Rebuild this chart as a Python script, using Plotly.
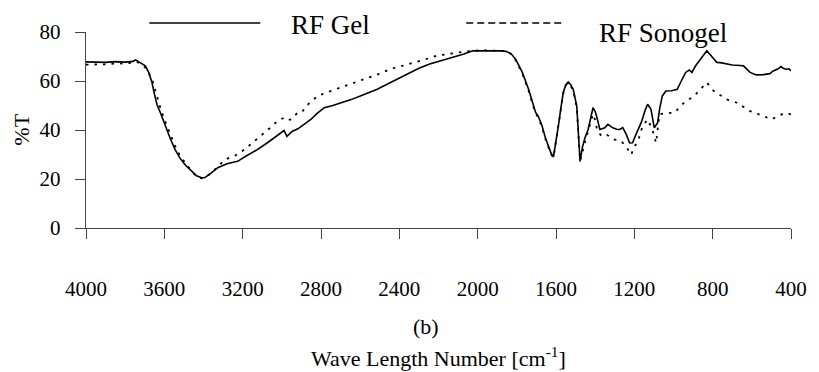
import plotly.graph_objects as go

# ---- data ----
gel_wn = [4000, 3900, 3850, 3800, 3760, 3747, 3730, 3697, 3680, 3663, 3650, 3638, 3615, 3596,
          3570, 3545, 3520, 3494, 3460, 3435, 3410, 3393, 3360, 3327, 3280, 3226, 3180, 3125,
          3070, 3024, 3000, 2989, 2974, 2960, 2948, 2918, 2888, 2852, 2820, 2783, 2740, 2700,
          2650, 2599, 2550, 2513, 2460, 2412, 2347, 2300, 2245, 2180, 2126, 2070, 2025, 1950,
          1880, 1856, 1830, 1806, 1772, 1740, 1720, 1704, 1690, 1671, 1655, 1639, 1625, 1613,
          1600, 1588, 1575, 1563, 1550, 1537, 1525, 1512, 1494, 1485, 1477, 1465, 1452, 1436,
          1420, 1411, 1400, 1393, 1376, 1360, 1351, 1335, 1320, 1310, 1290, 1275, 1259, 1240,
          1224, 1209, 1190, 1165, 1145, 1132, 1115, 1098, 1081, 1070, 1057, 1039, 1010, 981,
          960, 938, 920, 906, 887, 862, 845, 830, 810, 794, 779, 761, 700, 643, 609, 577, 540,
          508, 491, 465, 451, 440, 425, 410, 400]
gel_t = [67.8, 67.6, 67.9, 67.7, 68.0, 68.6, 67.8, 66.2, 63.5, 59.4, 54.5, 50.5, 46.0, 41.6,
         36.5, 32.0, 28.5, 25.8, 23.0, 21.3, 20.5, 20.6, 22.5, 24.6, 26.2, 27.2, 29.5, 32.0,
         35.0, 37.7, 39.0, 39.8, 37.4, 38.5, 39.4, 40.5, 42.3, 44.3, 46.8, 49.1, 50.0, 50.9,
         52.3, 53.9, 55.5, 56.6, 58.8, 60.7, 63.5, 65.2, 66.9, 68.4, 69.6, 71.0, 72.3, 72.4,
         72.3, 72.1, 71.2, 68.9, 63.5, 56.6, 51.0, 47.2, 45.5, 41.6, 37.0, 33.4, 30.5, 29.0,
         35.0, 41.6, 49.0, 55.3, 58.5, 59.6, 58.5, 56.6, 49.8, 38.0, 27.2, 33.0, 36.8, 40.2,
         46.0, 49.1, 47.5, 45.7, 40.2, 40.5, 40.9, 42.3, 41.5, 40.9, 40.3, 40.2, 41.0, 38.0,
         34.7, 34.8, 38.5, 43.0, 48.0, 50.5, 48.4, 40.9, 43.0, 49.0, 53.9, 55.9, 56.0, 56.6,
         60.0, 63.5, 64.5, 63.5, 66.2, 68.9, 71.0, 72.3, 70.5, 68.9, 67.6, 67.5, 66.5, 66.2,
         63.5, 62.5, 62.6, 63.0, 64.1, 65.0, 65.9, 65.2, 64.8, 65.0, 64.1]

sono_wn = [4000, 3900, 3850, 3800, 3760, 3740, 3720, 3690, 3660, 3640, 3620, 3596, 3570, 3545,
           3520, 3494, 3460, 3435, 3410, 3390, 3360, 3327, 3292, 3240, 3191, 3140, 3090, 3050,
           3024, 2989, 2970, 2953, 2918, 2898, 2860, 2817, 2751, 2700, 2650, 2600, 2548, 2500,
           2448, 2400, 2347, 2280, 2210, 2140, 2075, 1974, 1900, 1856, 1830, 1806, 1772, 1740,
           1720, 1704, 1690, 1671, 1655, 1639, 1625, 1613, 1600, 1588, 1575, 1563, 1550, 1537,
           1525, 1512, 1494, 1477, 1460, 1440, 1420, 1411, 1400, 1390, 1368, 1340, 1300, 1266,
           1240, 1216, 1199, 1183, 1158, 1132, 1108, 1089, 1072, 1032, 996, 946, 894, 861, 830,
           794, 728, 678, 609, 541, 500, 466, 431, 400]
sono_t = [66.7, 66.8, 67.2, 67.1, 67.5, 67.8, 67.0, 65.0, 60.0, 54.0, 49.0, 43.5, 38.0, 33.5,
          29.5, 26.5, 23.0, 21.0, 20.3, 20.6, 22.5, 25.0, 27.9, 29.5, 32.0, 35.5, 38.8, 41.5,
          43.6, 45.0, 44.0, 44.3, 47.2, 47.3, 51.0, 53.9, 55.9, 57.3, 58.7, 60.0, 61.4, 63.0,
          64.8, 65.8, 66.9, 68.5, 70.3, 71.2, 71.9, 72.6, 72.4, 72.2, 71.0, 68.5, 63.0, 56.0,
          50.5, 46.8, 45.0, 41.0, 36.5, 33.0, 30.0, 28.8, 35.0, 41.0, 48.5, 55.0, 58.2, 59.2,
          58.0, 56.0, 49.0, 27.5, 33.0, 38.5, 44.0, 46.5, 44.0, 40.0, 37.5, 38.0, 36.1, 35.4,
          33.0, 29.9, 33.4, 35.0, 41.6, 44.3, 40.2, 34.7, 46.4, 47.0, 47.0, 51.2, 53.9, 56.6,
          59.4, 55.9, 52.5, 51.2, 47.7, 45.7, 44.3, 45.7, 47.0, 46.4]

x_ticks = [4000, 3600, 3200, 2800, 2400, 2000, 1600, 1200, 800, 400]
y_ticks = [0, 20, 40, 60, 80]
series_names = ["RF Gel", "RF Sonogel"]

# ---- layout geometry (pixels) ----
W, H = 819, 372
L, R, T, B = 86, 798, 32, 228   # plot area edges


def px(x):
    return (x - L) / (R - L)


def py(y):
    return (B - y) / (B - T)


FONT = "Liberation Serif, Times New Roman, Times, serif"

fig = go.Figure()
fig.add_trace(go.Scatter(x=gel_wn, y=gel_t, mode="lines", name=series_names[0],
                         line=dict(color="black", width=1.6)))
fig.add_trace(go.Scatter(x=sono_wn, y=sono_t, mode="lines", name=series_names[1],
                         line=dict(color="black", width=1.8, dash="2.5px,6px")))

fig.update_layout(
    width=W, height=H,
    margin=dict(l=L, r=W - R, t=T, b=H - B, pad=0),
    paper_bgcolor="white", plot_bgcolor="white",
    showlegend=False,
    font=dict(family=FONT, color="black"),
)
fig.update_xaxes(range=[4000, 400], tickvals=x_ticks, ticktext=[str(v) for v in x_ticks],
                 ticks="outside", ticklen=10, tickwidth=1.2, tickcolor="#444",
                 showline=True, linecolor="#444", linewidth=1.4,
                 showgrid=False, zeroline=False,
                 tickfont=dict(family=FONT, size=21, color="black"),
                 ticklabelstandoff=32)
fig.update_yaxes(range=[0, 80], tickvals=y_ticks,
                 ticks="outside", ticklen=10, tickwidth=1.2, tickcolor="#444",
                 showline=True, linecolor="#444", linewidth=1.4,
                 showgrid=False, zeroline=False,
                 tickfont=dict(family=FONT, size=21, color="black"),
                 ticklabelstandoff=10)

ann = [
    dict(text="%T", x=px(20), y=py(130), textangle=-90, font=dict(size=22)),
    dict(text="(b)", x=px(429), y=py(326), font=dict(size=22)),
    dict(text="Wave Length Number [cm<sup>-1</sup>]", x=px(442), y=py(357), font=dict(size=22)),
    dict(text=series_names[0], x=px(291), y=py(25), xanchor="left", font=dict(size=27)),
    dict(text=series_names[1], x=px(602), y=py(33), xanchor="left", font=dict(size=27)),
]
for a in ann:
    a.update(xref="paper", yref="paper", showarrow=False)
    a.setdefault("xanchor", "center")
    a["yanchor"] = "middle"
    a["font"]["family"] = FONT
    a["font"]["color"] = "black"
    fig.add_annotation(**a)

fig.add_shape(type="line", xref="paper", yref="paper", x0=px(150), x1=px(262),
              y0=py(23), y1=py(23), line=dict(color="black", width=1.6))
fig.add_shape(type="line", xref="paper", yref="paper", x0=px(470), x1=px(567),
              y0=py(23), y1=py(23), line=dict(color="black", width=1.6, dash="7px,4px"))

fig.write_html("out.html")
